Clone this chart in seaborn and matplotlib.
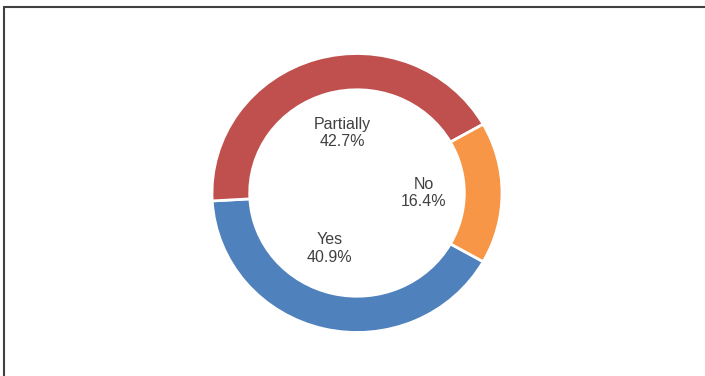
import matplotlib
matplotlib.use("Agg")
import matplotlib.pyplot as plt
from matplotlib.lines import Line2D
import seaborn as sns

# Survey answers and their shares (percent)
categories = ["Yes", "Partially", "No"]
shares = [40.9, 42.7, 16.4]
colors = ["#4F81BD", "#C0504D", "#F79646"]

# Label anchor points inside the hole (data units, ring outer radius = 1)
label_pos = [(-0.19, -0.40), (-0.10, 0.43), (0.46, 0.0)]

sns.set_style("white")
plt.rcParams["font.family"] = ["Liberation Sans", "DejaVu Sans"]

W, H = 705, 376
fig = plt.figure(figsize=(W / 100, H / 100), dpi=100)
ax = fig.add_axes([0, 0, 1, 1])

palette = sns.color_palette(colors)
ax.pie(
    shares,
    colors=palette,
    startangle=-29.5,
    counterclock=False,
    radius=1.0,
    wedgeprops=dict(width=0.26, edgecolor="white", linewidth=2),
)

for cat, val, (x, y) in zip(categories, shares, label_pos):
    ax.text(x, y, f"{cat}\n{val:.1f}%", ha="center", va="center",
            fontsize=11.5, color="#404040", linespacing=1.22)

# Map the unit circle onto a slightly wide ellipse centred in the frame
cx, cy = 357, H - 193
rx, ry = 145, 139.5
ax.set_aspect("auto")
ax.set_xlim(-cx / rx, (W - cx) / rx)
ax.set_ylim(-cy / ry, (H - cy) / ry)
ax.axis("off")

# Chart area border (left and top edges)
lx = 3.5 / W
ty = 1 - 6.5 / H
fig.add_artist(Line2D([lx, lx], [0, ty], transform=fig.transFigure,
                      color="#404040", linewidth=1.5))
fig.add_artist(Line2D([lx, 1], [ty, ty], transform=fig.transFigure,
                      color="#404040", linewidth=1.5))

fig.savefig("out.png", dpi=100, facecolor="white")
